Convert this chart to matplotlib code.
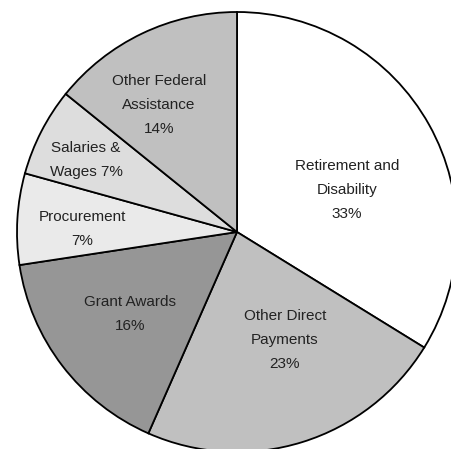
import matplotlib.pyplot as plt

# slice data, clockwise from 12 o'clock
categories = ['Retirement and\nDisability', 'Other Direct\nPayments', 'Grant Awards',
              'Procurement', 'Salaries &\nWages', 'Other Federal\nAssistance']
shares = [33.8, 22.8, 16.0, 6.7, 6.5, 14.2]
pct_labels = ['33%', '23%', '16%', '7%', '7%', '14%']
colors = ['#ffffff', '#c0c0c0', '#969696', '#eaeaea', '#dddddd', '#c0c0c0']

# label text as shown (Salaries puts the percent on the second line)
label_text = [
    categories[0] + '\n' + pct_labels[0],
    categories[1] + '\n' + pct_labels[1],
    categories[2] + '\n' + pct_labels[2],
    categories[3] + '\n' + pct_labels[3],
    'Salaries &\nWages ' + pct_labels[4],
    categories[5] + '\n' + pct_labels[5],
]

# label centres in pixels of the 452x449 image
label_px = [(347, 190), (285, 340), (130, 314), (82, 229), (86, 160), (159, 105)]

W, H = 452, 449
cx, cy, r = 237, 232, 220

fig = plt.figure(figsize=(W / 100, H / 100), dpi=100)
ax = fig.add_axes([(cx - r) / W, (H - cy - r) / H, 2 * r / W, 2 * r / H])

ax.pie(shares, colors=colors, startangle=90, counterclock=False, radius=1,
       wedgeprops=dict(edgecolor='black', linewidth=1.3))

for txt, (px, py) in zip(label_text, label_px):
    ax.text((px - cx) / r, (cy - py) / r, txt, ha='center', va='center',
            fontsize=11, family='Liberation Sans', color='#222222',
            linespacing=1.95)

ax.set_xlim(-1, 1)
ax.set_ylim(-1, 1)
ax.set_aspect('equal')
ax.axis('off')

fig.savefig('out.png', dpi=100)
